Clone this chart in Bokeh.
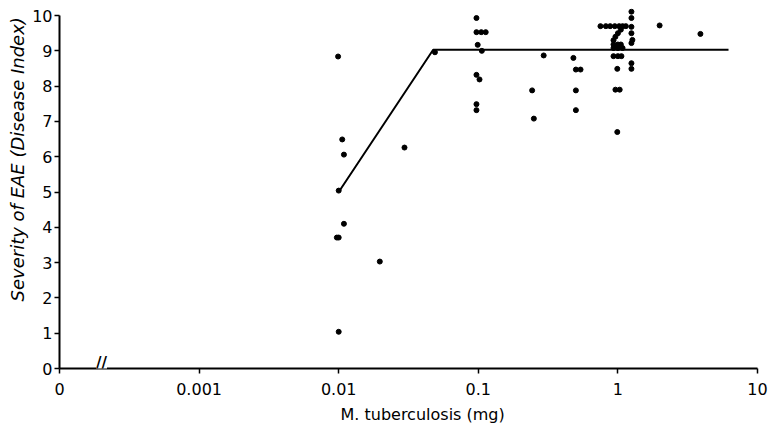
from bokeh.plotting import figure
from bokeh.models import FixedTicker, CustomJSTickFormatter, Label, Range1d, Title
from bokeh.embed import file_html
from bokeh.resources import INLINE

# ---- data (dose of M. tuberculosis in mg, disease index) ----
dose_mg = [
    0.0099, 0.0106, 0.0109, 0.0100, 0.0109, 0.0097, 0.0100, 0.0100,
    0.0197, 0.0296, 0.0489,
    0.097, 0.097, 0.105, 0.113, 0.099, 0.106, 0.097, 0.102, 0.097, 0.097,
    0.294, 0.243, 0.250,
    0.48, 0.50, 0.54, 0.50, 0.50,
    0.75, 0.82, 0.88, 0.95, 1.02, 1.08, 1.14,
    1.05, 1.00, 0.96, 0.93, 0.93, 1.00, 1.05,
    0.93, 1.00, 1.08, 0.93, 1.00, 1.06,
    0.99, 0.96, 1.03, 0.99,
    1.25, 1.25, 1.25, 1.25, 1.27, 1.25, 1.25, 1.25,
    1.99, 3.9,
]
severity = [
    8.84, 6.49, 6.06, 5.04, 4.10, 3.71, 3.71, 1.04,
    3.03, 6.26, 8.96,
    9.93, 9.53, 9.53, 9.53, 9.17, 9.00, 8.32, 8.19, 7.49, 7.32,
    8.87, 7.88, 7.08,
    8.80, 8.47, 8.47, 7.88, 7.32,
    9.70, 9.70, 9.70, 9.70, 9.70, 9.70, 9.70,
    9.60, 9.50, 9.40, 9.30, 9.18, 9.18, 9.18,
    9.08, 9.08, 9.08, 8.85, 8.85, 8.85,
    8.49, 7.90, 7.90, 6.70,
    10.11, 9.93, 9.68, 9.50, 9.31, 9.22, 8.65, 8.49,
    9.72, 9.48,
]
fit_dose = [0.01, 0.0475, 6.2]
fit_severity = [5.0, 9.03, 9.03]

x_ticks = [0.0001, 0.001, 0.01, 0.1, 1, 10]
x_tick_labels = ["0", "0.001", "0.01", "0.1", "1", "10"]
y_ticks = [0, 1, 2, 3, 4, 5, 6, 7, 8, 9, 10]

x_title = "M. tuberculosis (mg)"
y_title = "Severity of EAE (Disease Index)"

AXIS_BREAK = 2.0e-4

FONT = "DejaVu Sans"

p = figure(width=769, height=428, x_axis_type="log",
           x_range=Range1d(1e-4, 10), y_range=Range1d(0, 10.2),
           output_backend="svg", toolbar_location=None,
           min_border_left=59, min_border_right=12,
           min_border_top=8, min_border_bottom=59)
p.xgrid.visible = False
p.ygrid.visible = False
p.outline_line_color = None
p.background_fill_color = "white"
p.border_fill_color = "white"

for ax in (p.xaxis[0], p.yaxis[0]):
    ax.axis_line_width = 2
    ax.axis_line_color = "black"
    ax.major_tick_line_color = "black"
    ax.major_tick_line_width = 1.5
    ax.major_tick_out = 5
    ax.major_tick_in = 0
    ax.minor_tick_line_color = None
    ax.major_label_text_font = FONT
    ax.major_label_text_font_size = "16px"
    ax.major_label_text_color = "black"

p.xaxis.ticker = FixedTicker(ticks=x_ticks)
p.xaxis.formatter = CustomJSTickFormatter(
    args=dict(t=x_ticks, l=x_tick_labels),
    code="""
    let best = 0, bd = Infinity;
    for (let i = 0; i < t.length; i++) {
        const d = Math.abs(Math.log10(tick) - Math.log10(t[i]));
        if (d < bd) { bd = d; best = i; }
    }
    return l[best];
    """)
p.xaxis.bounds = (1e-4, 10)
p.xaxis.major_label_standoff = 9

p.yaxis.ticker = FixedTicker(ticks=y_ticks)
p.yaxis.bounds = (0, 10)
p.yaxis.major_label_standoff = 2

p.line(fit_dose, fit_severity, line_width=2, line_color="black")
p.scatter(dose_mg, severity, size=5, fill_color="black", line_color="black")

p.add_layout(Label(x=AXIS_BREAK, y=0, text="//", text_align="center",
                   text_baseline="bottom", y_offset=-3, text_font=FONT,
                   text_font_size="15px", text_font_style="bold",
                   background_fill_color="white", text_color="black"))

p.add_layout(Title(text=x_title, align="left", offset=281, text_font=FONT,
                   text_font_size="16px", text_font_style="normal",
                   text_color="black"), "below")
p.add_layout(Title(text=y_title, align="left", offset=67, standoff=4,
                   text_font=FONT, text_font_size="18px",
                   text_font_style="italic", text_color="black"), "left")

open("out.html", "w").write(file_html(p, INLINE))
